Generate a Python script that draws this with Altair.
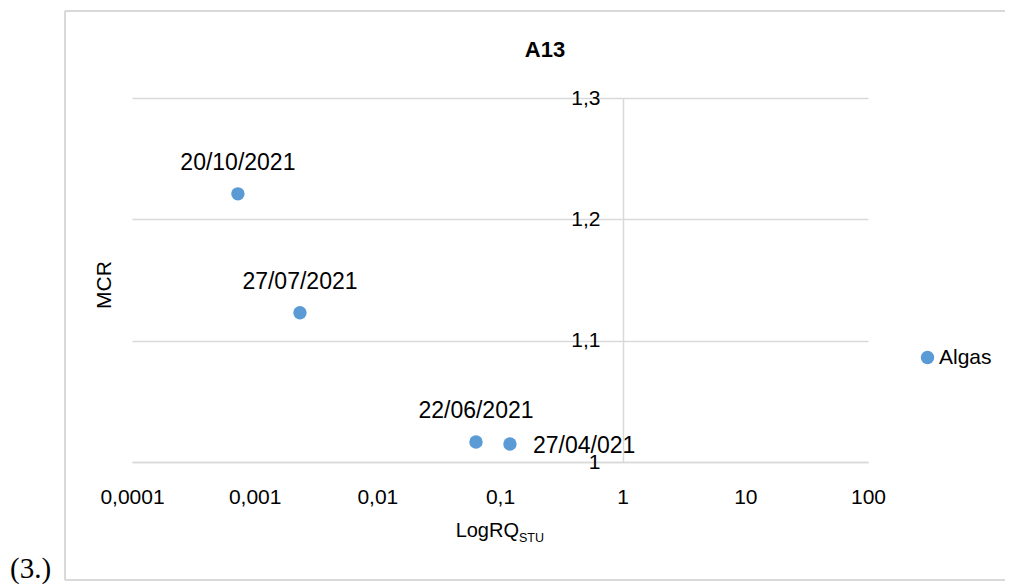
import altair as alt
import pandas as pd

# ---- data ----
labels = ["20/10/2021", "27/07/2021", "22/06/2021", "27/04/021"]
log_rq = [0.00073, 0.00234, 0.0637, 0.1205]
mcr = [1.221, 1.123, 1.0165, 1.0148]
series = ["Algas", "Algas", "Algas", "Algas"]
x_ticks = [0.0001, 0.001, 0.01, 0.1, 1, 10, 100]
y_ticks = [1.0, 1.1, 1.2, 1.3]

df = pd.DataFrame({"label": labels, "x": log_rq, "y": mcr, "series": series})
one = pd.DataFrame({"k": [0]})

FONT = "Liberation Sans"
GRID = "#d9d9d9"
BLUE = "#5B9BD5"

xscale = alt.Scale(type="log", domain=[0.0001, 100], nice=False)
yscale = alt.Scale(domain=[1.0, 1.3], nice=False, zero=False)

x_axis = alt.Axis(
    values=x_ticks,
    labelExpr="replace(format(datum.value, '~f'), '.', ',')",
    ticks=False, domain=True, domainColor=GRID, domainWidth=1.5, grid=False,
    labelFontSize=21, labelFont=FONT, labelColor="black", labelPadding=24,
    labelFlush=False, labelOverlap=False, title=None,
)
y_axis = alt.Axis(
    values=y_ticks,
    labelExpr="replace(format(datum.value, '~g'), '.', ',')",
    ticks=False, domain=True, domainColor=GRID, domainWidth=1.5,
    grid=True, gridColor=GRID, gridWidth=1.5,
    labelFontSize=21, labelFont=FONT, labelColor="black", labelPadding=23,
    offset=-491, title=None,
)

base = alt.Chart(df)

points = base.mark_circle(size=180, opacity=1).encode(
    x=alt.X("x:Q", scale=xscale, axis=x_axis),
    y=alt.Y("y:Q", scale=yscale, axis=y_axis),
    color=alt.Color(
        "series:N",
        scale=alt.Scale(domain=["Algas"], range=[BLUE]),
        legend=alt.Legend(
            title=None, orient="none", legendX=785, legendY=249,
            labelFont=FONT, labelFontSize=21, labelColor="black",
            symbolSize=180, symbolType="circle", labelOffset=1, padding=0,
        ),
    ),
)

labels_above = base.mark_text(dy=-31, fontSize=23, font=FONT, color="black").encode(
    x=alt.X("x:Q", scale=xscale), y=alt.Y("y:Q", scale=yscale), text="label:N"
).transform_filter(alt.datum.label != "27/04/021")

labels_right = base.mark_text(align="left", dx=23, dy=2, fontSize=23, font=FONT, color="black").encode(
    x=alt.X("x:Q", scale=xscale), y=alt.Y("y:Q", scale=yscale), text="label:N"
).transform_filter(alt.datum.label == "27/04/021")

deco = alt.Chart(one)
box_top = deco.mark_rule(stroke=GRID, strokeWidth=2).encode(
    x=alt.value(-67), x2=alt.value(900), y=alt.value(-87)
)
box_bottom = deco.mark_rule(stroke=GRID, strokeWidth=2).encode(
    x=alt.value(-67), x2=alt.value(900), y=alt.value(482)
)
box_left = deco.mark_rule(stroke=GRID, strokeWidth=2).encode(
    x=alt.value(-67), y=alt.value(-87), y2=alt.value(482)
)
title = deco.mark_text(text="A13", fontWeight="bold", fontSize=22, font=FONT, color="black").encode(
    x=alt.value(413), y=alt.value(-48)
)
ytitle = deco.mark_text(text="MCR", angle=270, fontSize=21, font=FONT, color="black").encode(
    x=alt.value(-27), y=alt.value(187)
)
xtitle = deco.mark_text(text="LogRQ", align="right", fontSize=20, font=FONT, color="black").encode(
    x=alt.value(387), y=alt.value(433)
)
xsub = deco.mark_text(text="STU", align="left", fontSize=12.5, font=FONT, color="black").encode(
    x=alt.value(387), y=alt.value(440)
)
tag = deco.mark_text(text="(3.)", align="left", baseline="alphabetic", font="Liberation Serif",
                     fontSize=29, color="black").encode(x=alt.value(-122), y=alt.value(480))

chart = alt.layer(box_top, box_bottom, box_left, points, labels_above, labels_right,
                  title, ytitle, xtitle, xsub, tag).properties(
    width=736, height=364,
    autosize=alt.AutoSizeParams(type="none"),
    padding={"left": 124, "top": 90, "right": 137, "bottom": 123},
).configure_view(stroke=None)

chart.save("out.html", embed_options={"renderer": "svg", "actions": False})
